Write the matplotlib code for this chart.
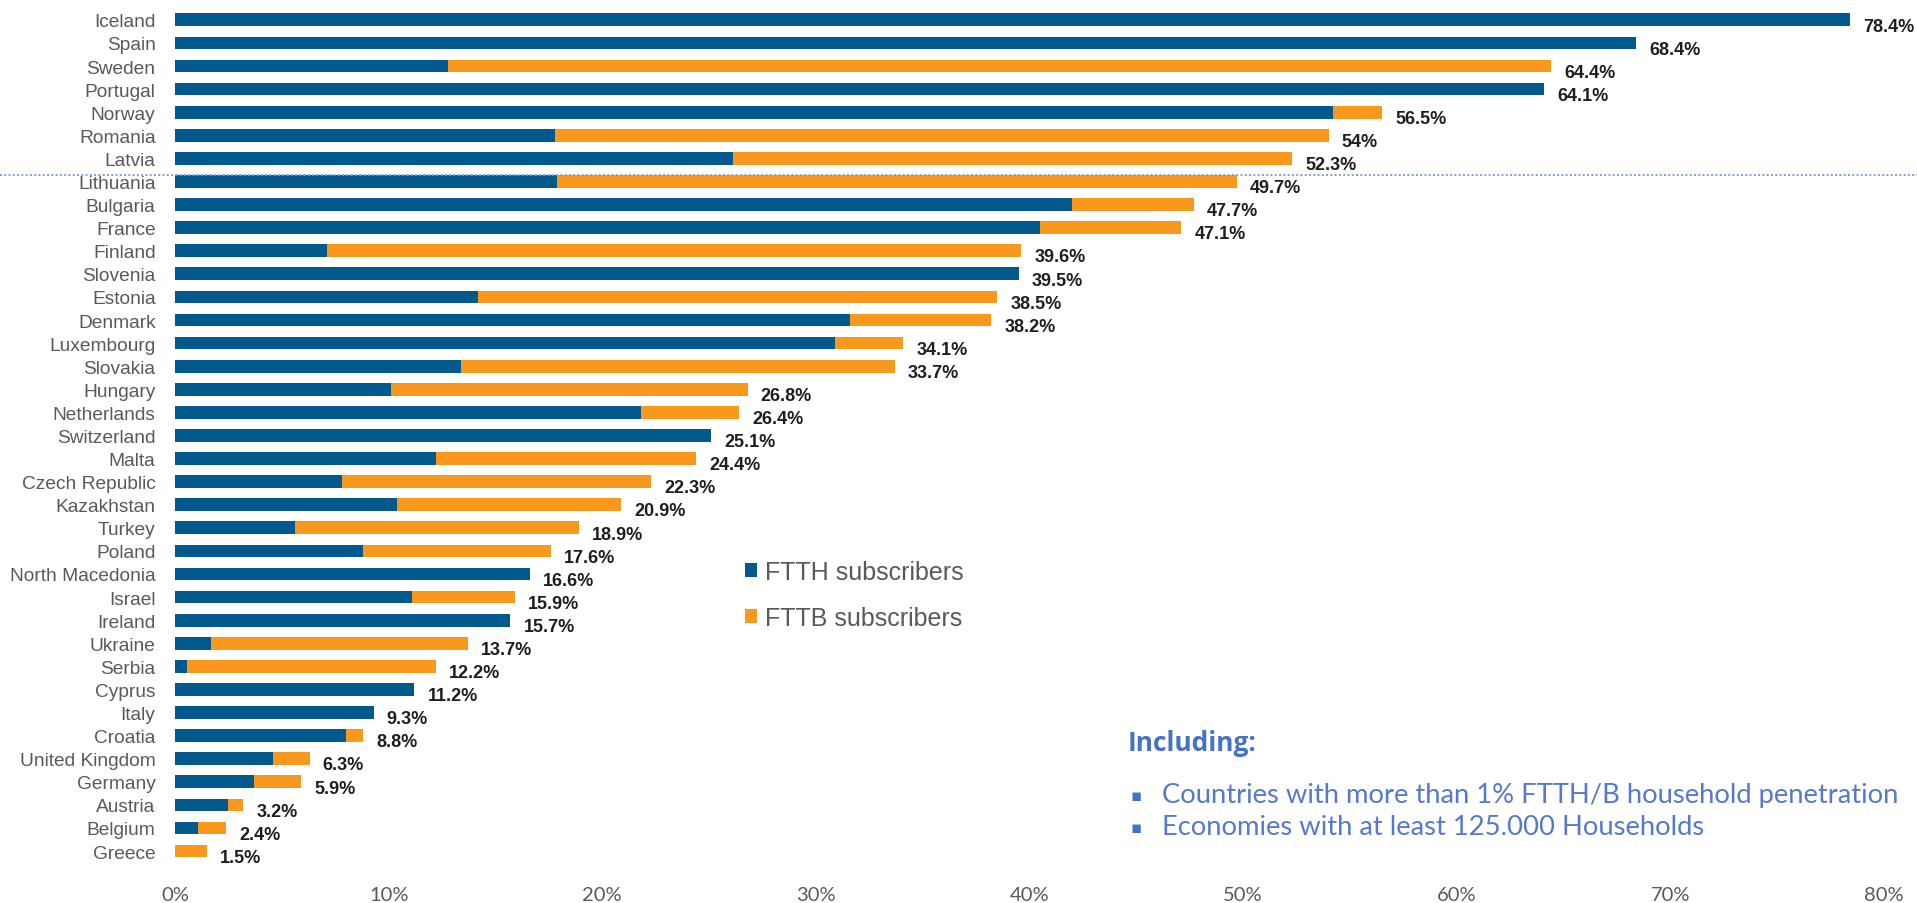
import numpy as np
import matplotlib
matplotlib.use("Agg")
import matplotlib.pyplot as plt
from matplotlib.transforms import blended_transform_factory

countries = ["Iceland", "Spain", "Sweden", "Portugal", "Norway", "Romania", "Latvia",
             "Lithuania", "Bulgaria", "France", "Finland", "Slovenia", "Estonia", "Denmark",
             "Luxembourg", "Slovakia", "Hungary", "Netherlands", "Switzerland", "Malta",
             "Czech Republic", "Kazakhstan", "Turkey", "Poland", "North Macedonia", "Israel",
             "Ireland", "Ukraine", "Serbia", "Cyprus", "Italy", "Croatia", "United Kingdom",
             "Germany", "Austria", "Belgium", "Greece"]

ftth = [78.4, 68.4, 12.8, 64.1, 54.2, 17.8, 26.1,
        17.9, 42.0, 40.5, 7.1, 39.5, 14.2, 31.6,
        30.9, 13.4, 10.1, 21.8, 25.1, 12.2,
        7.8, 10.4, 5.6, 8.8, 16.6, 11.1,
        15.7, 1.7, 0.55, 11.2, 9.3, 8.0, 4.6,
        3.7, 2.5, 1.1, 0.0]

fttb = [0.0, 0.0, 51.6, 0.0, 2.3, 36.2, 26.2,
        31.8, 5.7, 6.6, 32.5, 0.0, 24.3, 6.6,
        3.2, 20.3, 16.7, 4.6, 0.0, 12.2,
        14.5, 10.5, 13.3, 8.8, 0.0, 4.8,
        0.0, 12.0, 11.65, 0.0, 0.0, 0.8, 1.7,
        2.2, 0.7, 1.3, 1.5]

total_labels = ["78.4%", "68.4%", "64.4%", "64.1%", "56.5%", "54%", "52.3%",
                "49.7%", "47.7%", "47.1%", "39.6%", "39.5%", "38.5%", "38.2%",
                "34.1%", "33.7%", "26.8%", "26.4%", "25.1%", "24.4%",
                "22.3%", "20.9%", "18.9%", "17.6%", "16.6%", "15.9%",
                "15.7%", "13.7%", "12.2%", "11.2%", "9.3%", "8.8%", "6.3%",
                "5.9%", "3.2%", "2.4%", "1.5%"]

x_ticks = [0, 10, 20, 30, 40, 50, 60, 70, 80]
x_tick_labels = ["0%", "10%", "20%", "30%", "40%", "50%", "60%", "70%", "80%"]

series_names = ["FTTH subscribers", "FTTB subscribers"]
separator_row = 6.71  # dotted separator between Latvia and Lithuania

note_title = "Including:"
note_items = ["Countries with more than 1% FTTH/B household penetration",
              "Economies with at least 125.000 Households"]

BLUE = "#02598E"
ORANGE = "#F8991D"
GRAY = "#595959"
NOTE = "#4472C4"
NOTE_TXT = "#5579CC"

W, H = 1917, 904
fig = plt.figure(figsize=(W / 100, H / 100), dpi=100)
ax_left, ax_right = 175, 1884
ax_top, ax_bottom = 9.3, 863.6
ax = fig.add_axes([ax_left / W, 1 - ax_bottom / H, (ax_right - ax_left) / W, (ax_bottom - ax_top) / H])

n = len(countries)
y = np.arange(n)
ftth_a = np.array(ftth)
fttb_a = np.array(fttb)
bh = ax.barh(y, ftth_a, height=0.55, color=BLUE, label=series_names[0])
bb = ax.barh(y, fttb_a, left=ftth_a, height=0.55, color=ORANGE, label=series_names[1])

ax.set_xlim(0, 80)
ax.set_ylim(n - 0.5, -0.5)
ax.set_xticks(x_ticks)
ax.set_xticklabels(x_tick_labels, fontfamily="Lato", fontsize=14.5, color=GRAY)
ax.set_yticks(y)
ax.set_yticklabels(countries, fontfamily="Liberation Sans", fontsize=13.8, color=GRAY)
ax.tick_params(axis="both", length=0)
ax.tick_params(axis="y", pad=14)
ax.tick_params(axis="x", pad=17)
for s in ax.spines.values():
    s.set_visible(False)

totals = ftth_a + fttb_a
for i in range(n):
    ax.annotate(total_labels[i], xy=(totals[i], y[i]), xytext=(9.5, -4.5),
                textcoords="offset points", ha="left", va="center",
                fontfamily="Liberation Sans", fontweight="bold", fontsize=13,
                color="#1E1E1E", annotation_clip=False)

trans = blended_transform_factory(fig.transFigure, ax.transData)
ax.plot([0, 1], [separator_row, separator_row], transform=trans, clip_on=False,
        color="#7F9FD6", lw=1.4, ls=(0, (1, 1.2)))

leg = ax.legend(handles=[bh, bb], loc="upper left",
                bbox_to_anchor=(745 / W, 1 - 561 / H), bbox_transform=fig.transFigure,
                frameon=False, prop={"family": "Liberation Sans", "size": 18},
                handlelength=0.47, handleheight=0.47, handletextpad=0.34,
                labelspacing=0.88, borderpad=0, borderaxespad=0)
for t in leg.get_texts():
    t.set_color(GRAY)

fig.text(1128 / W, 1 - 744 / H, note_title, fontfamily="Open Sans", fontweight="bold",
         fontsize=19, color=NOTE, va="center", ha="left")
note_texts = []
for k, item in enumerate(note_items):
    yy = 1 - (796 + 32 * k) / H
    fig.text(1130 / W, yy, "\u25aa", fontfamily="DejaVu Sans", fontsize=12, color=NOTE,
             va="center", ha="left")
    note_texts.append(fig.text(1162 / W, yy, item, fontfamily="Lato", fontsize=19,
                               color=NOTE_TXT, va="center", ha="left"))

# fit the first note line to the reference width (~740 px)
renderer = fig.canvas.get_renderer()
w0 = note_texts[0].get_window_extent(renderer).width
fs = 19 * 740 / w0
for t in note_texts:
    t.set_fontsize(fs)

fig.savefig("out.png", dpi=100, facecolor="white")
